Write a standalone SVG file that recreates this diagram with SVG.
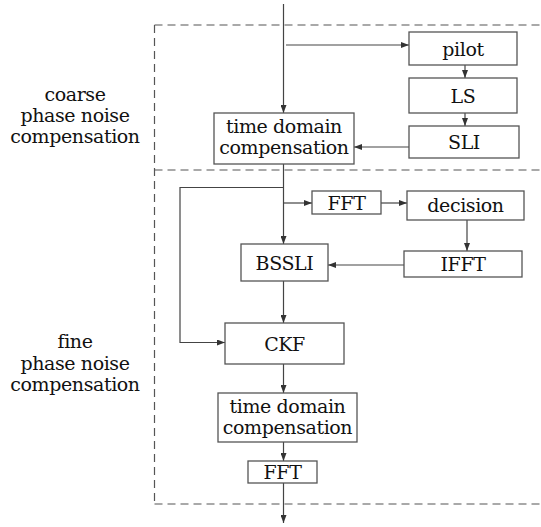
<svg xmlns="http://www.w3.org/2000/svg" width="541" height="527" viewBox="0 0 541 527">
  <style>
    .box { fill: #ffffff; stroke: #555555; stroke-width: 1.3; }
    .lbl { font-family: "DejaVu Serif", "Liberation Serif", serif; font-size: 19px; letter-spacing: -0.4px; fill: #111111; text-anchor: middle; }
    .wire { fill: none; stroke: #444444; stroke-width: 1.2; }
    .arr { marker-end: url(#head); }
    .dash { fill: none; stroke: #555555; stroke-width: 1.2; stroke-dasharray: 8 5; }
  </style>
  <defs>
    <marker id="head" viewBox="0 0 8 6" refX="8" refY="3" markerWidth="8" markerHeight="6" markerUnits="userSpaceOnUse" orient="auto">
      <path d="M0,0 L8,3 L0,6 Z" fill="#333333"/>
    </marker>
  </defs>
  <rect width="541" height="527" fill="#ffffff"/>

  <!-- stage frames -->
  <g id="frames">
    <line class="dash" x1="154.5" y1="25" x2="541" y2="25"/>
    <line class="dash" x1="154.5" y1="170" x2="541" y2="170"/>
    <line class="dash" x1="154.5" y1="504" x2="541" y2="504"/>
    <line class="dash" x1="154.5" y1="25" x2="154.5" y2="504"/>
  </g>

  <!-- stage labels -->
  <g id="label-coarse">
    <text class="lbl" x="75" y="101">coarse</text>
    <text class="lbl" x="75" y="122">phase noise</text>
    <text class="lbl" x="75" y="143">compensation</text>
  </g>
  <g id="label-fine">
    <text class="lbl" x="75" y="348">fine</text>
    <text class="lbl" x="75" y="370">phase noise</text>
    <text class="lbl" x="75" y="391">compensation</text>
  </g>

  <!-- connectors -->
  <g id="connectors">
    <line class="wire arr" x1="283.5" y1="4" x2="283.5" y2="113"/>
    <line class="wire arr" x1="286" y1="45" x2="409" y2="45"/>
    <line class="wire arr" x1="465" y1="65" x2="465" y2="78"/>
    <line class="wire arr" x1="465" y1="113" x2="465" y2="126"/>
    <line class="wire arr" x1="409" y1="147" x2="354" y2="147"/>
    <line class="wire arr" x1="283.5" y1="164" x2="283.5" y2="244"/>
    <polyline class="wire arr" points="283.5,187.5 180,187.5 180,342.5 225,342.5"/>
    <line class="wire arr" x1="283.5" y1="203" x2="312" y2="203"/>
    <line class="wire arr" x1="381" y1="203" x2="407" y2="203"/>
    <line class="wire arr" x1="467" y1="220" x2="467" y2="251"/>
    <line class="wire arr" x1="404" y1="265" x2="328" y2="265"/>
    <line class="wire arr" x1="283.5" y1="281" x2="283.5" y2="323"/>
    <line class="wire arr" x1="283.5" y1="364" x2="283.5" y2="393"/>
    <line class="wire arr" x1="283.5" y1="442" x2="283.5" y2="461"/>
    <line class="wire arr" x1="283.5" y1="483" x2="283.5" y2="523"/>
  </g>

  <!-- coarse stage -->
  <g id="pilot">
    <rect class="box" x="409" y="32" width="108" height="33"/>
    <text class="lbl" x="463" y="55.5">pilot</text>
  </g>
  <g id="ls">
    <rect class="box" x="409" y="78" width="108" height="35"/>
    <text class="lbl" x="463" y="102.5">LS</text>
  </g>
  <g id="sli">
    <rect class="box" x="409" y="126" width="110" height="32"/>
    <text class="lbl" x="464" y="149">SLI</text>
  </g>
  <g id="tdc-coarse">
    <rect class="box" x="214" y="113" width="140" height="51"/>
    <text class="lbl" x="284" y="133">time domain</text>
    <text class="lbl" x="284" y="154">compensation</text>
  </g>

  <!-- fine stage -->
  <g id="fft-a">
    <rect class="box" x="312" y="191" width="69" height="23"/>
    <text class="lbl" x="346.5" y="209.5">FFT</text>
  </g>
  <g id="decision">
    <rect class="box" x="407" y="191" width="117" height="29"/>
    <text class="lbl" x="465.5" y="212">decision</text>
  </g>
  <g id="ifft">
    <rect class="box" x="404" y="251" width="118" height="26"/>
    <text class="lbl" x="463" y="270.5">IFFT</text>
  </g>
  <g id="bsssli">
    <rect class="box" x="241" y="244" width="87" height="37"/>
    <text class="lbl" x="284.5" y="269.5">BSSLI</text>
  </g>
  <g id="ckf">
    <rect class="box" x="225" y="323" width="119" height="41"/>
    <text class="lbl" x="284.5" y="350.5">CKF</text>
  </g>
  <g id="tdc-fine">
    <rect class="box" x="218" y="393" width="139" height="49"/>
    <text class="lbl" x="287.5" y="413">time domain</text>
    <text class="lbl" x="287.5" y="434">compensation</text>
  </g>
  <g id="fft-b">
    <rect class="box" x="248" y="461" width="69" height="22"/>
    <text class="lbl" x="282.5" y="478.5">FFT</text>
  </g>
</svg>
